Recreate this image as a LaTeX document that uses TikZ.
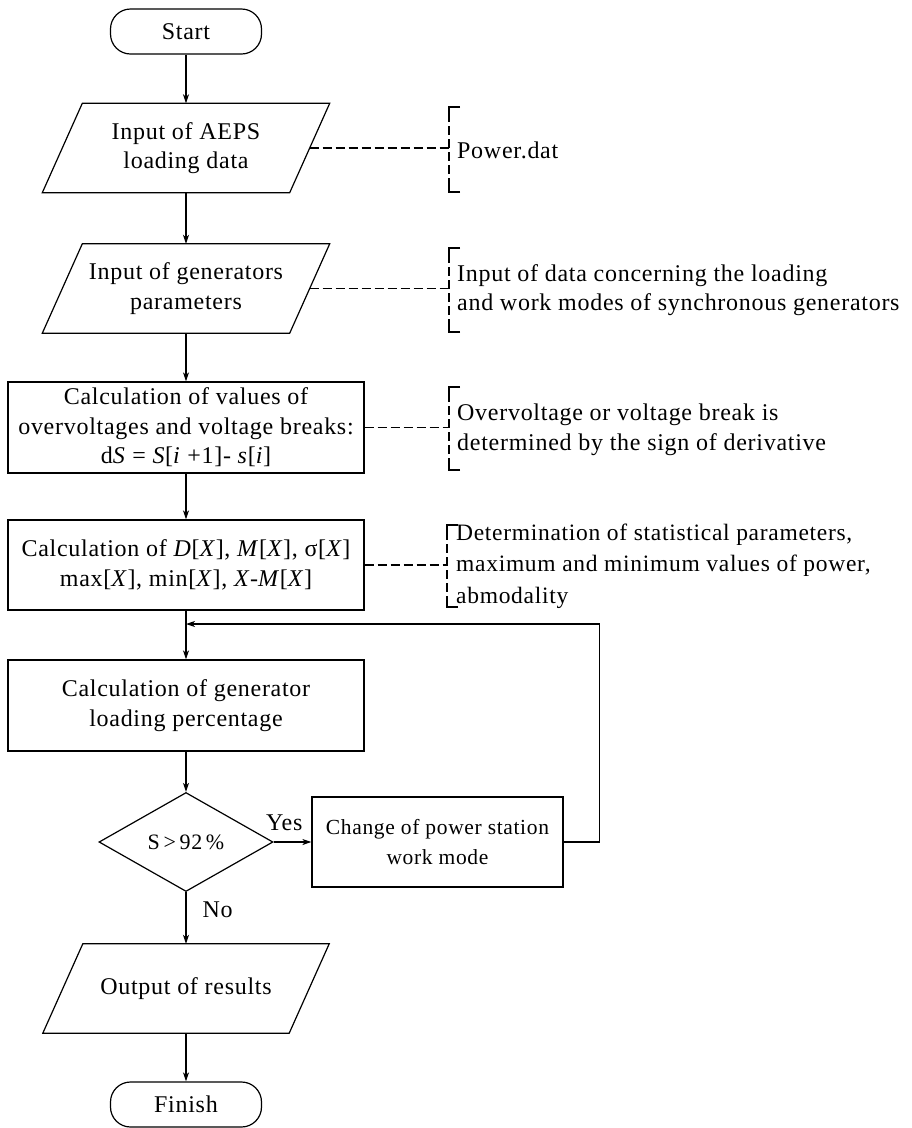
\documentclass[tikz,border=0pt]{standalone}
\usepackage{fontspec}
\setmainfont{Liberation Serif}[LetterSpace=3]
\usetikzlibrary{shapes.geometric,arrows.meta,calc}
\newcommand\annbr[3]{%
  \draw[line width=1.1pt] ({#1+11},#2) -- (#1,#2) -- (#1,{#2+6});
  \draw[line width=1.1pt] ({#1+11},#3) -- (#1,#3) -- (#1,{#3-6});
  \draw[dsh] (#1,{#2+6}) -- (#1,{#3-6});
}
\begin{document}
\begin{tikzpicture}[x=1pt,y=-1pt,
  every node/.style={font=\fontsize{24}{29.5}\selectfont},
  line/.style={line width=1.2pt},
  arr/.style={line width=1.2pt,-{Stealth[length=9pt,width=6pt,inset=2.5pt]}},
  proc/.style={draw,line width=1.2pt,rectangle,align=center,inner sep=0pt},
  term/.style={draw,line width=1.2pt,rectangle,rounded corners=20pt,minimum width=151pt,minimum height=45pt,inner sep=0pt},
  iobox/.style={rectangle,align=center,inner sep=0pt,minimum width=247pt,minimum height=89pt},
  decbox/.style={draw,line width=1.2pt,diamond,aspect=1.76,minimum width=174pt,minimum height=99pt,inner sep=0pt},
  note/.style={anchor=west,align=left,inner sep=0pt},
  dsh/.style={line width=1.1pt,dash pattern=on 9pt off 4pt},
]
\useasboundingbox (0,0) rectangle (912,1128);

% main flow nodes
\node[term] (start) at (186,31.5) {Start};
\node[iobox] (in1) at (186,148) {Input of AEPS\\loading data};
\node[iobox] (in2) at (186,288.5) {Input of generators\\parameters};
\node[proc,minimum width=356pt,minimum height=91pt] (calc1) at (186,427.5)
  {Calculation of values of\\overvoltages and voltage breaks:\\d\textit{S} = \textit{S}[\textit{i} +1]- \textit{s}[\textit{i}]};
\node[proc,minimum width=356pt,minimum height=90pt] (calc2) at (186,565)
  {Calculation of \textit{D}[\textit{X}], \textit{M}[\textit{X}], σ[\textit{X}]\\max[\textit{X}], min[\textit{X}], \textit{X}-\textit{M}[\textit{X}]};
\node[proc,minimum width=356pt,minimum height=91pt] (calc3) at (186,705.5)
  {Calculation of generator\\loading percentage};
\node[decbox,font=\fontsize{22}{27}\selectfont] (dec) at (186,842) {S\,>\,92\,\%};
\node[proc,minimum width=251pt,minimum height=90pt,font=\fontsize{21.5}{30}\selectfont] (change) at (437.5,842)
  {Change of power station\\work mode};
\node[iobox,minimum width=246pt] (out) at (186,988.5) {Output of results};
\node[term] (finish) at (186,1104.5) {Finish};

% parallelogram outlines
\foreach \n in {in1,in2,out}{
  \draw[line] ([xshift=20pt]\n.north west) -- ([xshift=20pt]\n.north east)
    -- ([xshift=-20pt]\n.south east) -- ([xshift=-20pt]\n.south west) -- cycle;
}

% connectors
\draw[arr] (start.south) -- (in1.north);
\draw[arr] (in1.south) -- (in2.north);
\draw[arr] (in2.south) -- (calc1.north);
\draw[arr] (calc1.south) -- (calc2.north);
\draw[arr] (calc2.south) -- (calc3.north);
\draw[arr] (calc3.south) -- (dec.north);
\draw[arr] (dec.east) -- node[pos=0.28,above=11pt,inner sep=0pt] (yes) {Yes} (change.west);
\draw[arr] (dec.south) -- node[pos=0.35,right=16pt,inner sep=0pt] (no) {No} (out.north);
\draw[arr] (out.south) -- (finish.north);
\coordinate (join) at (186,624);
\draw[arr] (change.east) -- ++(36,0) |- (join);

% annotations
\node[note] (n1) at (457,150) {Power.dat};
\node[note] (n2) at (457,290) {Input of data concerning the loading\\and work modes of synchronous generators};
\node[note] (n3) at (457,430) {Overvoltage or voltage break is\\determined by the sign of derivative};
\node[note,font=\fontsize{23.5}{31.5}\selectfont] (n4) at (456,566) {Determination of statistical parameters,\\maximum and minimum values of power,\\abmodality};

\annbr{449}{107}{192}
\annbr{449}{248}{332}
\annbr{449}{387}{470}
\annbr{447}{525}{607}

\coordinate (b1) at (449,148);
\coordinate (b2) at (449,288.5);
\coordinate (b3) at (449,427.5);
\coordinate (b4) at (447,565);
\draw[dsh] (in1.east) -- (b1);
\draw[dsh] (in2.east) -- (b2);
\draw[dsh] (calc1.east) -- (b3);
\draw[dsh] (calc2.east) -- (b4);
\end{tikzpicture}
\end{document}
